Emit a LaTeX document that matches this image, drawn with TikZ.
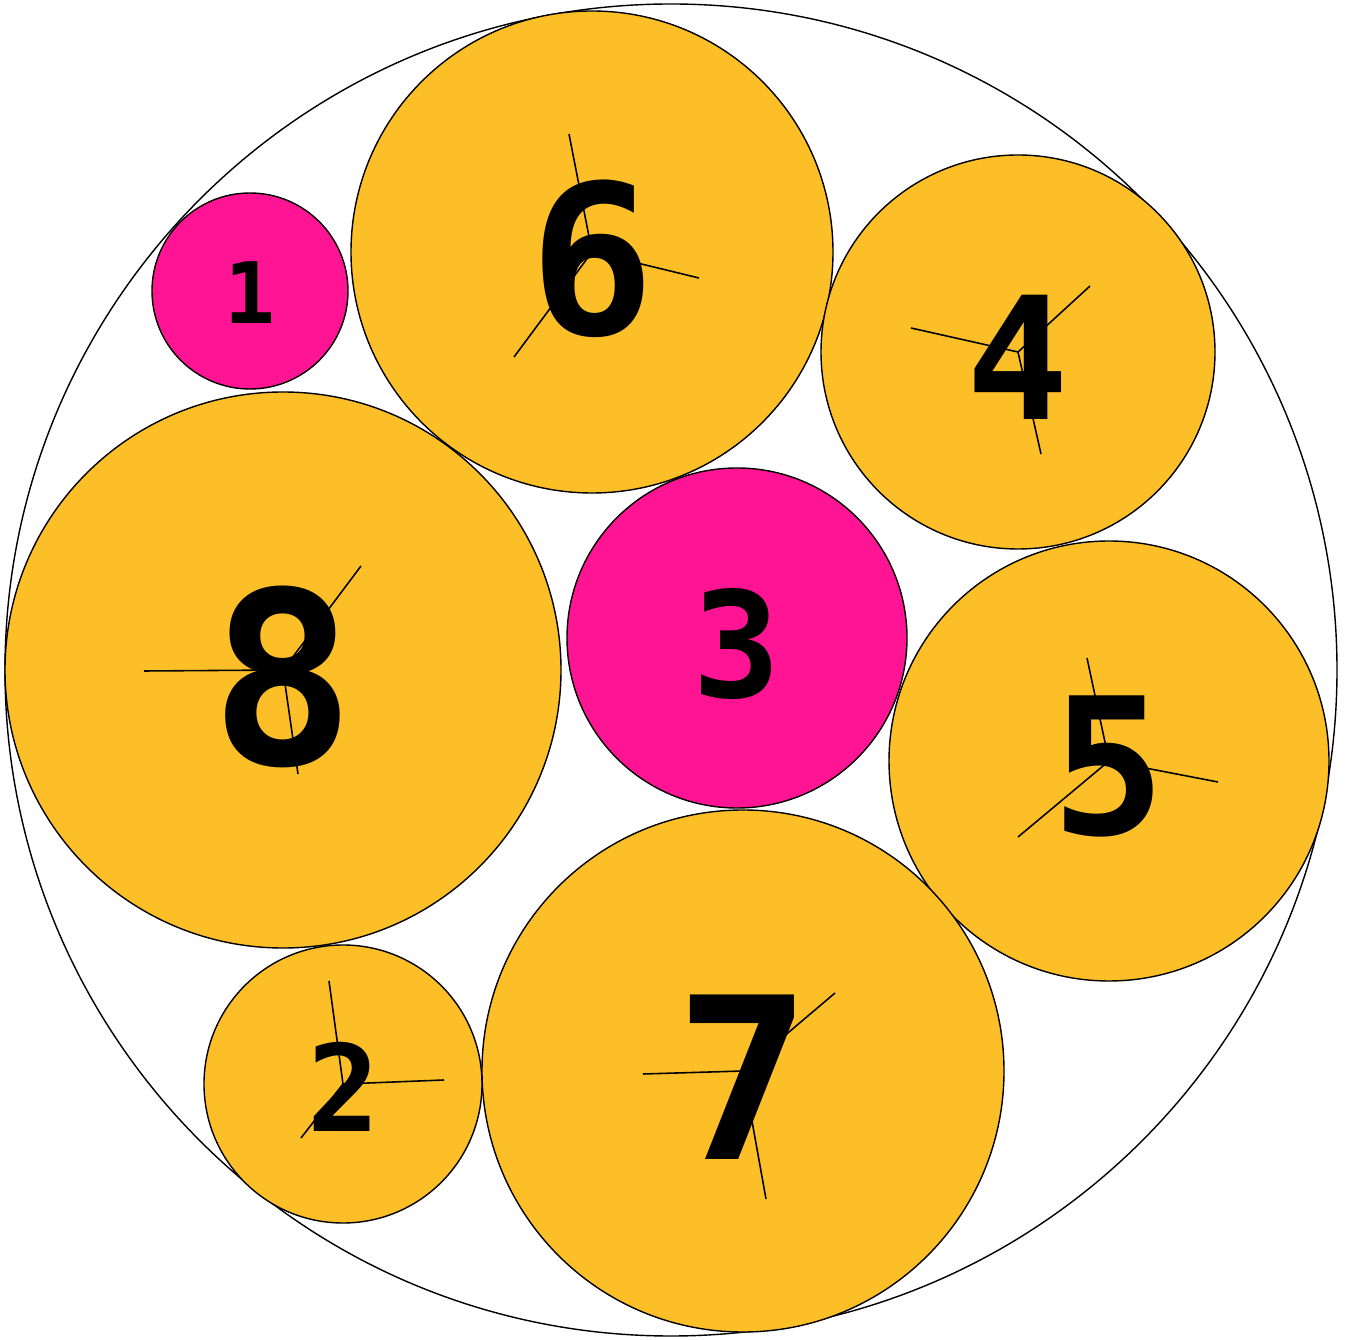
\documentclass[tikz,border=0pt]{standalone}
\usepackage{fontspec}
\setmonofont{DejaVu Sans Mono}
\usepackage{xcolor}
\usepackage{tikz}

\definecolor{discgold}{HTML}{FDBF28}
\definecolor{discpink}{HTML}{FF1493}

\newcommand{\digitsize}[1]{\fontsize{#1pt}{#1pt}\selectfont}

\begin{document}
\begin{tikzpicture}[
  x=0.01cm, y=-0.01cm,
  disc/.style={draw=black, line width=0.4pt},
  ray/.style={black, line width=0.45pt},
  digit/.style={inner sep=0pt, text=black, font=\ttfamily\bfseries}
]

\useasboundingbox (0, 0) rectangle (1345, 1340);

% Outer boundary
\coordinate (c0) at (671, 670);
\draw[disc, fill=white] (c0) circle[radius=666];

% ==================== Circle centres ====================
\coordinate (c1) at (250, 291);
\coordinate (c6) at (592, 252);
\coordinate (c4) at (1018, 352);
\coordinate (c8) at (283, 670);
\coordinate (c3) at (737, 638);
\coordinate (c5) at (1109, 761);
\coordinate (c2) at (343, 1084);
\coordinate (c7) at (743, 1071);

% ==================== Discs ====================
\draw[disc, fill=discpink] (c1) circle[radius=98];
\draw[disc, fill=discgold] (c6) circle[radius=241];
\draw[disc, fill=discgold] (c4) circle[radius=197];
\draw[disc, fill=discgold] (c8) circle[radius=278];
\draw[disc, fill=discpink] (c3) circle[radius=170];
\draw[disc, fill=discgold] (c5) circle[radius=220];
\draw[disc, fill=discgold] (c2) circle[radius=139];
\draw[disc, fill=discgold] (c7) circle[radius=261];

% ==================== Contact rays ====================
% disc 6
\draw[ray] (c6) -- (569, 134);
\draw[ray] (c6) -- (699, 278);
\draw[ray] (c6) -- (514, 357);
% disc 4
\draw[ray] (c4) -- (911, 328);
\draw[ray] (c4) -- (1090, 286);
\draw[ray] (c4) -- (1041, 454);
% disc 8
\draw[ray] (c8) -- (144, 671);
\draw[ray] (c8) -- (361, 566);
\draw[ray] (c8) -- (298, 774);
% disc 5
\draw[ray] (c5) -- (1087, 658);
\draw[ray] (c5) -- (1218, 782);
\draw[ray] (c5) -- (1018, 837);
% disc 2
\draw[ray] (c2) -- (329, 981);
\draw[ray] (c2) -- (444, 1080);
\draw[ray] (c2) -- (301, 1138);
% disc 7
\draw[ray] (c7) -- (643, 1074);
\draw[ray] (c7) -- (835, 993);
\draw[ray] (c7) -- (766, 1199);

% ==================== Labels ====================
\node[digit, font=\ttfamily\bfseries\digitsize{24.1}] (n1) at (250, 293) {1};
\node[digit, font=\ttfamily\bfseries\digitsize{59.3}] (n6) at (592, 259) {6};
\node[digit, font=\ttfamily\bfseries\digitsize{48.5}] (n4) at (1018, 357) {4};
\node[digit, font=\ttfamily\bfseries\digitsize{68.4}] (n8) at (283, 677) {8};
\node[digit, font=\ttfamily\bfseries\digitsize{41.8}] (n3) at (737, 644) {3};
\node[digit, font=\ttfamily\bfseries\digitsize{54.1}] (n5) at (1109, 767) {5};
\node[digit, font=\ttfamily\bfseries\digitsize{34.2}] (n2) at (344, 1087) {2};
\node[digit, font=\ttfamily\bfseries\digitsize{64.2}] (n7) at (743, 1077) {7};

\end{tikzpicture}
\end{document}
